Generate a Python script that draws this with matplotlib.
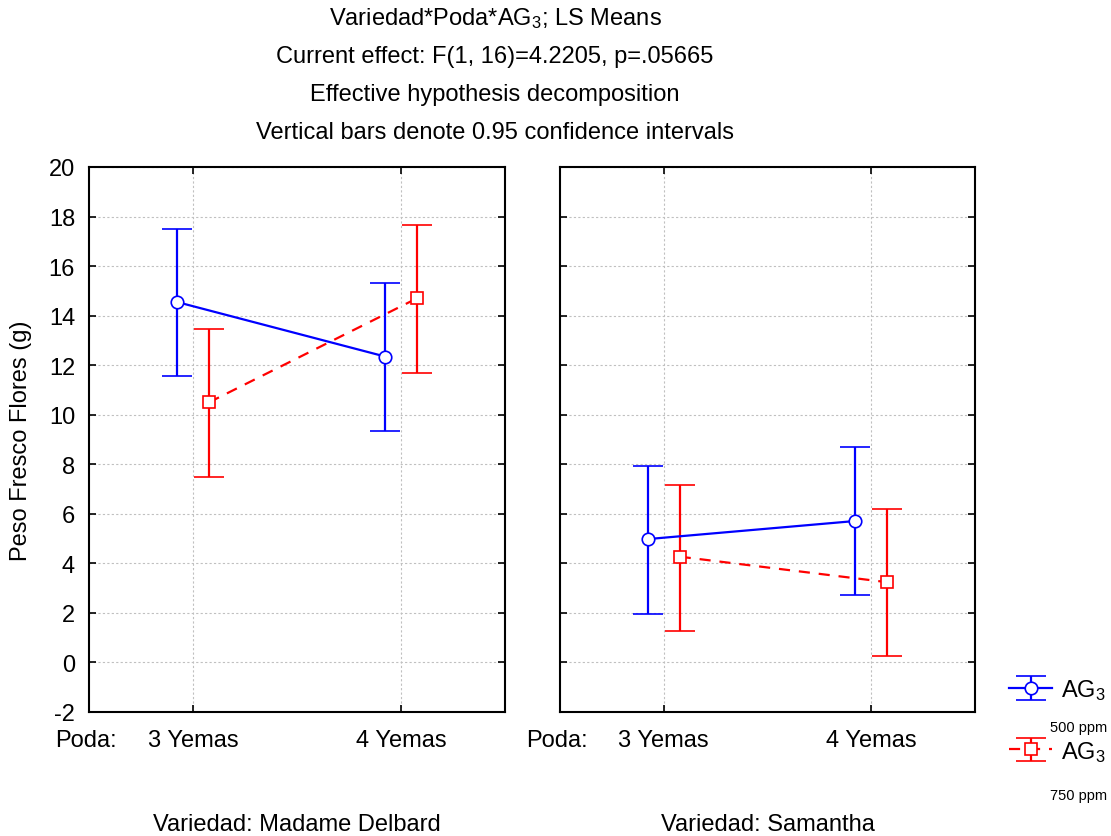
import numpy as np
import matplotlib
matplotlib.use("Agg")
import matplotlib.pyplot as plt

plt.rcParams['font.family'] = ['Liberation Sans', 'DejaVu Sans']
plt.rcParams['mathtext.default'] = 'regular'
plt.rcParams['axes.unicode_minus'] = False

# --- data ---
poda = ["3 Yemas", "4 Yemas"]
variedades = ["Madame Delbard", "Samantha"]

# LS means and 0.95 CI bounds, per variety: [3 Yemas, 4 Yemas]
mean_500 = {"Madame Delbard": [14.55, 12.35], "Samantha": [4.98, 5.71]}
low_500 = {"Madame Delbard": [11.56, 9.35], "Samantha": [1.97, 2.74]}
high_500 = {"Madame Delbard": [17.50, 15.33], "Samantha": [7.92, 8.68]}

mean_750 = {"Madame Delbard": [10.50, 14.70], "Samantha": [4.27, 3.24]}
low_750 = {"Madame Delbard": [7.50, 11.70], "Samantha": [1.25, 0.25]}
high_750 = {"Madame Delbard": [13.45, 17.67], "Samantha": [7.18, 6.20]}

W, H = 1111, 837
fig = plt.figure(figsize=(W / 100, H / 100), dpi=100)

def px_axes(x0, x1, y0, y1):
    return fig.add_axes([x0 / W, 1 - y1 / H, (x1 - x0) / W, (y1 - y0) / H])

axes = [px_axes(89, 505, 168, 713), px_axes(560, 975, 168, 713)]
fs = 17
off = 0.077
x = np.arange(len(poda))

for i, (ax, var) in enumerate(zip(axes, variedades)):
    m5 = np.array(mean_500[var])
    e5 = [m5 - np.array(low_500[var]), np.array(high_500[var]) - m5]
    m7 = np.array(mean_750[var])
    e7 = [m7 - np.array(low_750[var]), np.array(high_750[var]) - m7]

    h1 = ax.errorbar(x - off, m5, yerr=e5, color='#0000ff', lw=1.6, capsize=11,
                     capthick=1.6, marker='o', ms=9, mfc='white', mec='#0000ff',
                     mew=1.2, zorder=3)
    h2 = ax.errorbar(x + off, m7, yerr=e7, color='#ff0000', lw=1.6, capsize=11,
                     capthick=1.6, marker='s', ms=9, mfc='white', mec='#ff0000',
                     mew=1.2, ls=(0, (5, 4)), zorder=3)

    ax.set_xlim(-0.5, 1.5)
    ax.set_ylim(-2, 20)
    ax.set_yticks(np.arange(-2, 21, 2))
    ax.set_xticks(x)
    ax.set_xticklabels(poda, fontsize=fs)
    ax.grid(True, ls=(0, (2, 2)), color='#c0c0c0', lw=0.8)
    ax.tick_params(direction='in', length=5, width=1.2, top=True, right=True,
                   labelsize=fs)
    ax.tick_params(axis='x', pad=12)
    ax.tick_params(axis='y', pad=10)
    for s in ax.spines.values():
        s.set_linewidth(1.5)
    if i == 0:
        ax.set_ylabel("Peso Fresco Flores (g)", fontsize=fs, labelpad=12)
    else:
        ax.set_yticklabels([])
    # "Poda:" sits on the same line as the tick labels
    ax.annotate("Poda:", xy=(0, 0), xycoords='axes fraction',
                xytext=(-24.5, -12), textcoords='offset points',
                fontsize=fs, va='top', ha='left')
    pos = ax.get_position()
    fig.text(pos.x0 + pos.width / 2, 1 - 825 / H,
             "Variedad: " + var, fontsize=fs, va='center', ha='center')

titles = ["Variedad*Poda*AG$_3$; LS Means",
          "Current effect: F(1, 16)=4.2205, p=.05665",
          "Effective hypothesis decomposition",
          "Vertical bars denote 0.95 confidence intervals"]
for k, t in enumerate(titles):
    fig.text(495 / W, 1 - (19 + 38 * k) / H, t, fontsize=fs, ha='center', va='center')

leg = fig.legend([h1, h2], ["AG$_3$", "AG$_3$"], loc='upper left',
                 bbox_to_anchor=(988 / W, 1 - 657 / H), frameon=False,
                 fontsize=fs, handlelength=1.8, labelspacing=1.55,
                 handletextpad=0.4)
fig.text(1050 / W, 1 - 728 / H, "500 ppm", fontsize=10.5, va='center', ha='left')
fig.text(1050 / W, 1 - 796 / H, "750 ppm", fontsize=10.5, va='center', ha='left')

fig.savefig("out.png", dpi=100)
